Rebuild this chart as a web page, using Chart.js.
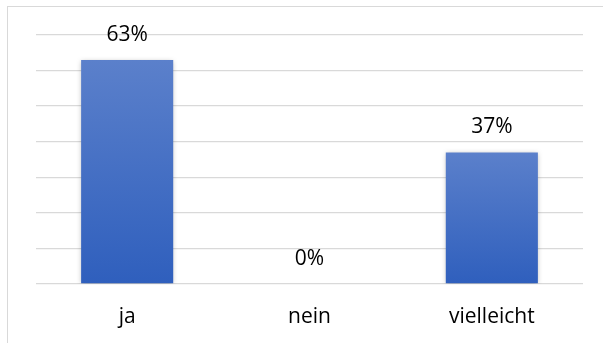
<!DOCTYPE html>
<html>
<head>
<meta charset="utf-8">
<script src="https://cdn.jsdelivr.net/npm/chart.js@4"></script>
<style>
  html, body { margin: 0; padding: 0; background: #fff; }
  #wrap { position: relative; width: 603px; height: 343px; overflow: hidden; }
  #frame { position: absolute; left: 7px; top: 6px; width: 620px; height: 360px; border: 1px solid #d9d9d9; box-sizing: border-box; }
  canvas { position: absolute; left: 0; top: 0; }
</style>
</head>
<body>
<div id="wrap">
  <div id="frame"></div>
  <canvas id="chart" width="603" height="343"></canvas>
</div>
<script>
// Antworten in Prozent
const categories = ['ja', 'nein', 'vielleicht'];
const values = [63, 0, 37];
const valueLabels = ['63%', '0%', '37%'];

const FONT = '"Open Sans", sans-serif';

// soft shadow behind the bars
const barShadow = {
    id: 'barShadow',
    beforeDatasetsDraw(chart) {
        const ctx = chart.ctx;
        ctx.save();
        ctx.shadowColor = 'rgba(0,0,0,0.28)';
        ctx.shadowBlur = 5;
        ctx.shadowOffsetX = 0;
        ctx.shadowOffsetY = 1;
    },
    afterDatasetsDraw(chart) {
        chart.ctx.restore();
    }
};

// value text above each bar
const valueText = {
    id: 'valueText',
    afterDatasetsDraw(chart) {
        const ctx = chart.ctx;
        const meta = chart.getDatasetMeta(0);
        ctx.save();
        ctx.shadowColor = 'transparent';
        ctx.font = '21px ' + FONT;
        ctx.fillStyle = '#000';
        ctx.textAlign = 'center';
        ctx.textBaseline = 'middle';
        meta.data.forEach((bar, i) => {
            ctx.fillText(valueLabels[i], bar.x, bar.y - 25);
        });
        ctx.restore();
    }
};

new Chart(document.getElementById('chart'), {
    type: 'bar',
    data: {
        labels: categories,
        datasets: [{
            data: values,
            backgroundColor: (c) => {
                const chart = c.chart;
                const area = chart.chartArea;
                if (!area) return '#4472c4';
                const top = chart.scales.y.getPixelForValue(values[c.dataIndex]);
                const g = chart.ctx.createLinearGradient(0, top, 0, area.bottom);
                g.addColorStop(0, '#5b80cb');
                g.addColorStop(1, '#2f5fbd');
                return g;
            },
            borderWidth: 0,
            categoryPercentage: 1,
            barPercentage: 0.505
        }]
    },
    options: {
        responsive: false,
        animation: false,
        layout: { padding: { left: 36, right: 20, top: 35, bottom: 0 } },
        plugins: { legend: { display: false }, tooltip: { enabled: false } },
        scales: {
            x: {
                grid: { display: false, drawTicks: false },
                border: { display: false },
                ticks: { color: '#000', font: { family: FONT, size: 21 }, padding: 20 },
                afterFit: (s) => { s.height = 59; }
            },
            y: {
                min: 0,
                max: 70,
                ticks: { display: false, stepSize: 10 },
                grid: { color: '#d9d9d9', lineWidth: 1.3, drawTicks: false },
                border: { display: false },
                afterFit: (s) => { s.width = 0; }
            }
        }
    },
    plugins: [barShadow, valueText]
});
</script>
</body>
</html>
